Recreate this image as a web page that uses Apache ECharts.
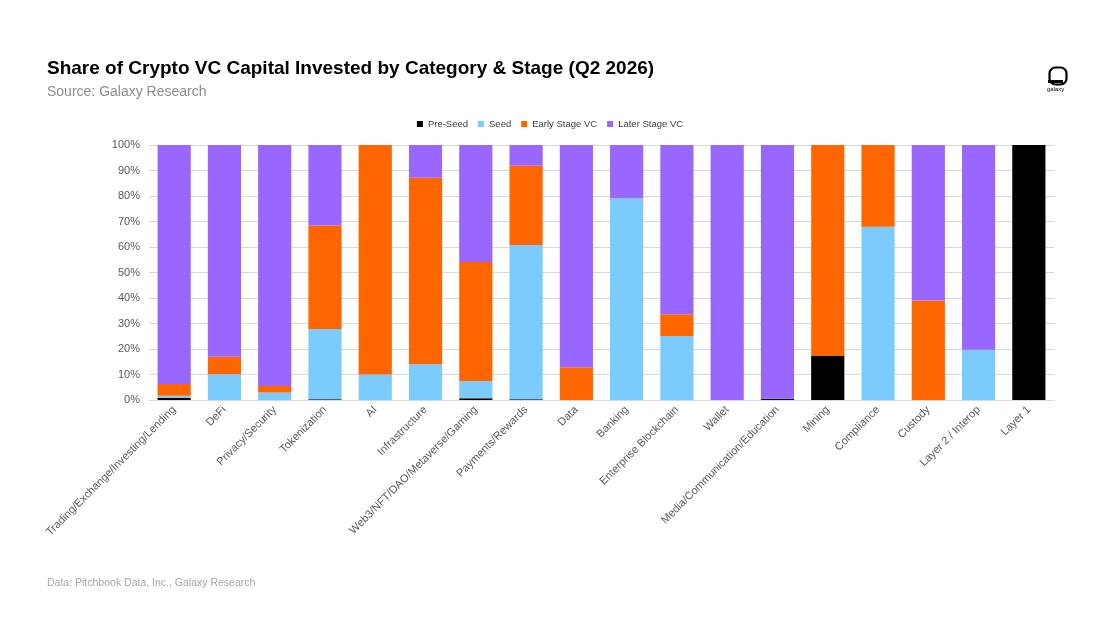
<!DOCTYPE html>
<html>
<head>
<meta charset="utf-8">
<script src="https://cdn.jsdelivr.net/npm/echarts@6/dist/echarts.min.js"></script>
<style>
  html, body { margin: 0; padding: 0; background: #fff; }
  #chart { width: 1100px; height: 619px; }
</style>
</head>
<body>
<div id="chart"></div>
<script>
// Categorias (eje x)
const categories = [
    'Trading/Exchange/Investing/Lending', 'DeFi', 'Privacy/Security', 'Tokenization', 'AI',
    'Infrastructure', 'Web3/NFT/DAO/Metaverse/Gaming', 'Payments/Rewards', 'Data', 'Banking',
    'Enterprise Blockchain', 'Wallet', 'Media/Communication/Education', 'Mining', 'Compliance',
    'Custody', 'Layer 2 / Interop', 'Layer 1'
];

// Porcentaje por etapa
const preSeed  = [0.8, 0, 0, 0.3, 0, 0, 0.7, 0.3, 0, 0, 0, 0, 0.5, 17.3, 0, 0, 0, 100];
const seed     = [0.9, 10.1, 2.9, 27.5, 10, 14, 6.8, 60.5, 0, 79.1, 25.1, 0, 0, 0, 67.9, 0, 19.7, 0];
const earlyVC  = [4.6, 6.9, 2.6, 40.6, 90, 73.2, 46.6, 31.1, 12.8, 0, 8.5, 0, 0, 82.7, 32.1, 39, 0, 0];
const laterVC  = [93.7, 83, 94.5, 31.6, 0, 12.8, 45.9, 8.1, 87.2, 20.9, 66.4, 100, 99.5, 0, 0, 61, 80.3, 0];

const yTicks = [0, 10, 20, 30, 40, 50, 60, 70, 80, 90, 100];

const chart = echarts.init(document.getElementById('chart'));

const mkSeries = (name, data, color) => ({
    name: name,
    type: 'bar',
    stack: 'total',
    barWidth: '66%',
    data: data,
    itemStyle: { color: color },
    emphasis: { disabled: true }
});

chart.setOption({
    animation: false,
    textStyle: { fontFamily: 'Liberation Sans' },
    title: [
        {
            text: 'Share of Crypto VC Capital Invested by Category & Stage (Q2 2026)',
            left: 42, top: 54,
            textStyle: { fontFamily: 'Liberation Sans', fontSize: 19, fontWeight: 'bold', color: '#000' }
        },
        {
            text: 'Source: Galaxy Research',
            left: 42, top: 80,
            textStyle: { fontFamily: 'Liberation Sans', fontSize: 14, fontWeight: 'normal', color: '#8c8c8c' }
        },
        {
            text: 'Data: Pitchbook Data, Inc., Galaxy Research',
            left: 42, top: 573,
            textStyle: { fontFamily: 'Liberation Sans', fontSize: 10.5, fontWeight: 'normal', color: '#a6a6a6' }
        }
    ],
    graphic: [
        {
            type: 'rect', left: 1047, top: 65,
            shape: { width: 17, height: 17, r: 6 },
            style: { fill: 'none', stroke: '#000', lineWidth: 2.2 }
        },
        {
            type: 'rect', left: 1048, top: 80,
            shape: { width: 15, height: 3 },
            style: { fill: '#000' }
        },
        {
            type: 'text', left: 1047, top: 86,
            style: { text: 'galaxy', fontSize: 6, fill: '#000', fontFamily: 'Liberation Sans' }
        }
    ],
    legend: {
        top: 114,
        left: 'center',
        itemWidth: 6,
        itemHeight: 6,
        itemGap: 10,
        icon: 'rect',
        textStyle: { fontSize: 9.5, color: '#404040', fontFamily: 'Liberation Sans' },
        data: ['Pre-Seed', 'Seed', 'Early Stage VC', 'Later Stage VC']
    },
    grid: { left: 149, right: 46, top: 145, bottom: 219, containLabel: false },
    xAxis: {
        type: 'category',
        data: categories,
        axisTick: { show: false },
        axisLine: { lineStyle: { color: '#d9d9d9' } },
        axisLabel: { rotate: 45, interval: 0, fontSize: 11, color: '#595959', margin: 8 }
    },
    yAxis: {
        type: 'value',
        min: 0, max: 100, interval: 10,
        axisLabel: {
            formatter: v => yTicks.includes(v) ? v + '%' : '',
            fontSize: 11, color: '#595959', margin: 9
        },
        splitLine: { lineStyle: { color: '#d9d9d9' } },
        axisLine: { show: false },
        axisTick: { show: false }
    },
    series: [
        mkSeries('Pre-Seed', preSeed, '#000000'),
        mkSeries('Seed', seed, '#7ccbff'),
        mkSeries('Early Stage VC', earlyVC, '#ff6600'),
        mkSeries('Later Stage VC', laterVC, '#9966ff')
    ]
});
</script>
</body>
</html>
